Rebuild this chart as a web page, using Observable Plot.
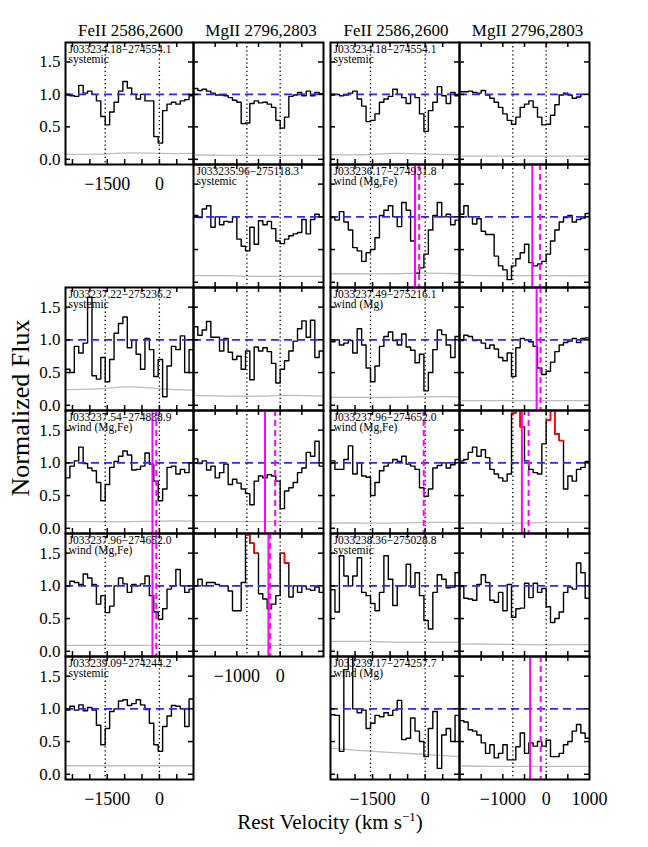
<!DOCTYPE html>
<html><head><meta charset="utf-8">
<script src="https://cdn.jsdelivr.net/npm/d3@7"></script>
<script src="https://cdn.jsdelivr.net/npm/@observablehq/plot@0.6"></script>
<style>
body{margin:0;background:#fff;}
#chart{position:relative;width:648px;height:847px;font-family:"Liberation Serif","DejaVu Serif",serif;}
#chart svg.panel{position:absolute;}
#overlay{position:absolute;left:0;top:0;pointer-events:none;}
</style></head><body><div id="chart"></div>
<script>
// ---------------- axes / reference values ----------------
const feDomain = [-2700, 980];
const mgDomain = [-2000, 1000];
const yDomain = [-0.08, 1.8];
const feLineVel = [-1559, 0];
const mgLineVel = [-768, 0];
const feTickVals = [-2500, -2000, -1500, -1000, -500, 0, 500];
const mgTickVals = [-1500, -1000, -500, 0, 500];
const yTickVals = [0, 0.5, 1.0, 1.5];
const feTickLabels = [-1500, 0];
const mgTickLabels = [-1000, 0];
const mgTickLabelsLast = [-1000, 0, 1000];
const columnTitles = ["FeII 2586,2600", "MgII 2796,2803", "FeII 2586,2600", "MgII 2796,2803"];

// ---------------- object labels ----------------
const labelA = ["J033234.18−274554.1", "systemic"];
const labelE = ["J033235.96−275118.3", "systemic"];
const labelH = ["J033237.22−275236.2", "systemic"];
const labelL = ["J033237.54−274838.9", "wind (Mg,Fe)"];
const labelP = ["J033237.96−274652.0", "wind (Mg,Fe)"];
const labelT = ["J033239.09−274244.2", "systemic"];
const labelC = ["J033234.18−274554.1", "systemic"];
const labelF = ["J033236.17−274931.8", "wind (Mg,Fe)"];
const labelJ = ["J033237.49−275216.1", "wind (Mg)"];
const labelN = ["J033237.96−274652.0", "wind (Mg,Fe)"];
const labelR = ["J033238.36−275028.8", "systemic"];
const labelU = ["J033239.17−274257.7", "wind (Mg)"];

// ---------------- normalized flux (binned) ----------------
const fluxA = [0.99,0.98,0.97,1.14,1.02,1.05,1.0,0.9,0.66,0.53,0.73,0.88,1.05,1.2,1.1,1.0,0.93,1.0,0.9,0.9,0.35,0.25,0.75,0.85,0.88,0.85,0.9,0.92,0.98];
const fluxB = [1.09,1.06,1.08,1.05,1.02,0.99,0.99,0.98,0.95,0.91,0.88,0.55,0.56,0.86,0.9,0.87,0.88,0.85,0.8,0.6,0.48,0.65,0.97,0.99,1.03,0.98,1.05,0.98,1.03,1.01];
const fluxC = [0.99,1.0,0.98,0.99,1.02,1.05,0.93,0.82,0.58,0.6,0.7,0.88,0.93,0.97,1.08,1.0,0.95,0.86,1.0,0.95,0.7,0.43,0.75,0.88,1.12,0.98,0.86,1.03,0.98];
const fluxD = [1.04,1.04,1.05,1.03,1.02,1.06,0.99,0.94,0.88,0.8,0.7,0.6,0.54,0.65,0.8,0.85,0.9,0.8,0.65,0.53,0.54,0.68,0.84,0.99,1.02,0.99,0.94,0.96,1.0,1.0];
const fluxE = [1.02,0.99,1.12,1.17,0.84,1.0,0.88,0.93,0.92,1.0,0.66,0.55,0.48,0.84,0.58,0.94,0.88,0.93,0.82,0.63,0.59,0.66,0.71,0.74,0.76,0.96,0.74,0.96,1.04,1.0];
const fluxF = [0.99,0.95,1.08,0.92,0.8,0.53,0.48,0.32,0.45,0.5,0.68,1.02,1.1,1.17,1.0,0.85,1.22,1.1,0.63,0.14,0.22,0.43,0.8,1.02,1.22,1.0,1.04,0.88,0.95];
const fluxG = [1.04,1.17,1.0,0.89,0.97,0.78,0.73,0.73,0.4,0.25,0.19,0.04,0.25,0.36,0.45,0.58,0.3,0.25,0.28,0.32,0.43,0.63,0.8,0.92,0.99,1.02,0.92,0.96,0.98,1.05];
const fluxH = [0.55,0.5,0.9,0.8,0.95,1.65,0.45,0.4,0.73,0.36,0.7,1.1,1.25,1.35,0.88,1.0,0.78,0.55,1.02,0.85,0.44,0.7,0.13,0.6,0.9,0.85,1.06,0.5,0.85];
const fluxI = [1.2,1.07,1.15,1.28,1.04,1.04,0.83,1.02,0.81,0.7,0.75,0.55,0.83,0.39,0.89,0.83,0.88,0.82,0.64,0.34,0.55,0.68,0.83,0.98,1.17,1.29,1.04,1.3,0.73,0.83];
const fluxJ = [0.97,1.0,0.92,0.95,0.99,0.8,1.17,0.92,0.57,0.36,0.6,0.9,1.05,1.12,0.99,0.92,1.09,0.89,0.84,0.65,0.78,0.22,0.5,0.85,1.15,1.08,0.92,0.73,1.05];
const fluxK = [0.99,1.07,1.05,0.99,1.0,0.95,0.87,0.92,0.86,0.73,0.68,0.8,0.44,0.88,1.02,1.0,0.97,0.9,0.57,0.47,0.52,0.66,0.82,0.92,0.96,0.98,1.02,0.96,1.02,1.03];
const fluxL = [0.77,0.95,1.03,1.24,0.99,0.92,0.88,0.7,0.42,0.67,0.93,1.02,1.1,1.18,1.12,0.89,0.9,0.95,1.15,0.98,0.72,0.42,0.6,0.93,0.95,0.83,0.9,0.85,1.0];
const fluxM = [1.06,0.99,1.03,0.89,0.95,0.77,0.85,0.98,0.67,0.75,0.69,0.6,0.53,0.36,0.72,0.8,0.77,0.82,0.8,0.72,0.3,0.57,0.62,0.7,0.85,0.92,1.16,1.1,1.33,0.95];
const fluxN = [1.03,0.9,0.9,1.05,1.26,0.83,1.0,0.8,0.78,0.5,0.7,0.88,0.95,1.0,1.05,1.02,1.1,0.98,0.95,0.9,0.62,0.49,0.6,0.92,0.96,1.0,0.92,0.97,1.05];
const fluxO = [1.03,1.05,1.16,1.24,1.1,1.2,1.08,0.9,0.83,0.77,0.72,0.83,1.76,2.2,1.55,1.03,0.9,0.85,0.83,1.29,1.65,2.2,1.44,1.34,0.6,0.8,0.72,0.9,0.93,1.02];
const fluxP = [1.0,1.07,1.05,1.02,1.18,1.12,1.02,0.72,0.85,0.59,0.69,1.0,1.12,1.03,0.9,1.02,1.0,1.03,1.15,0.85,0.6,0.49,0.65,0.95,1.0,1.25,1.0,0.9,0.95];
const fluxQ = [1.0,1.1,1.0,1.05,1.05,1.02,1.0,1.0,0.92,0.62,0.62,1.05,1.78,1.65,1.5,0.88,0.8,0.65,0.72,0.85,1.5,1.35,0.83,1.0,0.9,1.0,0.95,0.93,0.98,0.9];
const fluxR = [0.94,0.6,1.46,1.15,1.0,1.15,1.43,0.9,0.85,0.73,0.62,0.9,1.46,1.1,0.7,1.0,1.0,1.33,0.98,1.2,0.85,0.47,0.34,0.9,1.17,1.1,0.97,0.98,1.2];
const fluxS = [0.99,0.81,0.8,0.78,1.02,1.17,1.05,0.78,0.75,0.9,0.62,1.02,0.52,0.65,0.66,1.04,0.82,1.04,0.9,0.96,0.68,0.44,0.5,0.6,0.9,0.98,0.95,1.35,1.2,0.81];
const fluxT = [0.98,1.04,0.98,1.06,0.97,1.02,0.98,0.75,0.45,0.7,0.96,1.0,1.12,1.14,1.05,1.08,1.14,1.06,0.99,0.78,0.45,0.35,0.73,0.89,1.05,1.04,1.0,0.73,1.15];
const fluxU = [0.91,0.9,0.35,1.6,1.85,1.0,0.94,0.98,0.7,0.78,0.9,0.88,0.94,0.9,0.98,1.13,0.53,0.55,0.86,0.66,0.5,0.27,0.7,0.96,0.09,0.6,0.7,0.5,0.9];
const fluxV = [0.82,0.8,0.68,0.66,0.6,0.48,0.32,0.45,0.25,0.32,0.45,0.22,0.22,0.42,0.63,0.32,0.48,0.43,0.5,0.43,0.52,0.27,0.27,0.32,0.45,0.5,0.66,0.76,0.63,0.55];

// bins drawn in red
const redO = [12,13,14,20,21,22,23];
const redQ = [12,13,14,20,21];

// ---------------- error spectra (knots across the window) ----------------
const errA = [0.08,0.08,0.1,0.09,0.09];
const errB = [0.07,0.06,0.06,0.06,0.06];
const errC = [0.07,0.07,0.09,0.08,0.07];
const errD = [0.05,0.05,0.05,0.05,0.05];
const errE = [0.1,0.1,0.09,0.09,0.09];
const errF = [0.13,0.13,0.13,0.14,0.13];
const errG = [0.11,0.1,0.1,0.1,0.1];
const errH = [0.24,0.25,0.28,0.25,0.23];
const errI = [0.15,0.14,0.14,0.15,0.14];
const errJ = [0.12,0.12,0.12,0.13,0.13];
const errK = [0.07,0.07,0.07,0.07,0.07];
const errL = [0.1,0.1,0.1,0.11,0.11];
const errM = [0.1,0.1,0.1,0.1,0.1];
const errN = [0.08,0.08,0.08,0.09,0.09];
const errO = [0.08,0.08,0.08,0.09,0.09];
const errP = [0.09,0.09,0.09,0.09,0.09];
const errQ = [0.09,0.09,0.09,0.09,0.09];
const errR = [0.15,0.15,0.14,0.14,0.14];
const errS = [0.11,0.11,0.1,0.1,0.1];
const errT = [0.13,0.13,0.13,0.13,0.13];
const errU = [0.4,0.36,0.33,0.3,0.27];
const errV = [0.13,0.12,0.12,0.12,0.12];

// ---------------- wind velocities [solid, dashed] (km/s) ----------------
const windF = [-290, -170];
const windG = [-320, -140];
const windK = [-220, -130];
const windL = [-200, -90];
const windM = [-350, -115];
const windN = [null, -40];
const windO = [-560, -405];
const windP = [-200, -90];
const windQ = [-270, -230];
const windV = [-370, -125];

const panels = [
  {row:0,col:0,flux:fluxA,err:errA,label:labelA,yLab:true,xLab:feTickLabels},
  {row:0,col:1,flux:fluxB,err:errB},
  {row:1,col:1,flux:fluxE,err:errE,label:labelE},
  {row:2,col:0,flux:fluxH,err:errH,label:labelH,yLab:true},
  {row:2,col:1,flux:fluxI,err:errI},
  {row:3,col:0,flux:fluxL,err:errL,label:labelL,yLab:true,wind:windL},
  {row:3,col:1,flux:fluxM,err:errM,wind:windM},
  {row:4,col:0,flux:fluxP,err:errP,label:labelP,yLab:true,wind:windP},
  {row:4,col:1,flux:fluxQ,err:errQ,red:redQ,wind:windQ,xLab:mgTickLabels},
  {row:5,col:0,flux:fluxT,err:errT,label:labelT,yLab:true,xLab:feTickLabels},
  {row:0,col:2,flux:fluxC,err:errC,label:labelC},
  {row:0,col:3,flux:fluxD,err:errD},
  {row:1,col:2,flux:fluxF,err:errF,label:labelF,wind:windF},
  {row:1,col:3,flux:fluxG,err:errG,wind:windG},
  {row:2,col:2,flux:fluxJ,err:errJ,label:labelJ},
  {row:2,col:3,flux:fluxK,err:errK,wind:windK},
  {row:3,col:2,flux:fluxN,err:errN,label:labelN,wind:windN},
  {row:3,col:3,flux:fluxO,err:errO,red:redO,wind:windO},
  {row:4,col:2,flux:fluxR,err:errR,label:labelR},
  {row:4,col:3,flux:fluxS,err:errS},
  {row:5,col:2,flux:fluxU,err:errU,label:labelU,xLab:feTickLabels},
  {row:5,col:3,flux:fluxV,err:errV,wind:windV,xLab:mgTickLabelsLast}
];

// ---------------- layout (pixels) ----------------
const colX = [65, 193, 330, 459];
const colW = [128, 130, 129, 130];
const rowY = [42, 164, 287, 410, 533, 656];
const rowH = [122, 123, 123, 123, 123, 123];
const FONT = "Liberation Serif, DejaVu Serif, serif";

const fmt = d => d < 0 ? "\u2212" + Math.abs(d) : String(d);

function stepVerts(flux, dom) {
  const n = flux.length, w = (dom[1] - dom[0]) / n, out = [];
  flux.forEach((v, i) => { out.push({x: dom[0] + i * w, y: v}, {x: dom[0] + (i + 1) * w, y: v}); });
  return out;
}
function redVerts(flux, dom, red) {
  const n = flux.length, w = (dom[1] - dom[0]) / n, out = [];
  let prev = -5;
  red.forEach(i => {
    if (i !== prev + 1 && out.length) out.push({x: NaN, y: NaN});
    out.push({x: dom[0] + i * w, y: flux[i]}, {x: dom[0] + (i + 1) * w, y: flux[i]});
    prev = i;
  });
  return out;
}
function errPts(err, dom) {
  return err.map((v, k) => ({x: dom[0] + k * (dom[1] - dom[0]) / (err.length - 1), y: v}));
}

const chart = document.getElementById("chart");

panels.forEach(p => {
  const isFe = p.col % 2 === 0;
  const dom = isFe ? feDomain : mgDomain;
  const W = colW[p.col], H = rowH[p.row];
  const ticks = isFe ? feTickVals : mgTickVals;
  const marks = [
    Plot.line(errPts(p.err, dom), {x: "x", y: "y", stroke: "#bdbdbd", strokeWidth: 1.3, curve: "natural"}),
    Plot.line(stepVerts(p.flux, dom), {x: "x", y: "y", stroke: "#000", strokeWidth: 1.4, clip: true})
  ];
  if (p.red) marks.push(Plot.line(redVerts(p.flux, dom, p.red), {x: "x", y: "y", stroke: "#ff0000", strokeWidth: 1.5, clip: true}));
  marks.push(
    Plot.ruleY([1], {stroke: "#2a2aff", strokeWidth: 1.6, strokeDasharray: "8,5"}),
    Plot.ruleX(isFe ? feLineVel : mgLineVel, {x: d => d, stroke: "#000", strokeWidth: 1.3, strokeDasharray: "1.3,2.8"})
  );
  if (p.wind) {
    if (p.wind[0] != null) marks.push(Plot.ruleX([p.wind[0]], {x: d => d, stroke: "#ff00ff", strokeWidth: 2}));
    if (p.wind[1] != null) marks.push(Plot.ruleX([p.wind[1]], {x: d => d, stroke: "#ff00ff", strokeWidth: 2, strokeDasharray: "6,4"}));
  }
  marks.push(
    Plot.tickY(yTickVals, {y: d => d, insetRight: W - 5, stroke: "#000", strokeWidth: 1.5}),
    Plot.tickY(yTickVals, {y: d => d, insetLeft: W - 5, stroke: "#000", strokeWidth: 1.5}),
    Plot.tickX(ticks, {x: d => d, insetTop: H - 5, stroke: "#000", strokeWidth: 1.5}),
    Plot.tickX(ticks, {x: d => d, insetBottom: H - 5, stroke: "#000", strokeWidth: 1.5}),
    Plot.frame({stroke: "#000", strokeWidth: 2})
  );
  if (p.label) {
    marks.push(Plot.text([p.label.join("\n")], {text: d => d, frameAnchor: "top-left", lineAnchor: "top", textAnchor: "start", dx: 3, dy: 3, lineHeight: 0.9, fontSize: 11.5, fill: "#000"}));
  }
  if (p.yLab) {
    marks.push(Plot.axisY({ticks: yTickVals, tickSize: 0, tickPadding: 5, tickFormat: d => d.toFixed(1), fontSize: 17, label: null, anchor: "left"}));
  }
  if (p.xLab) {
    marks.push(Plot.axisX({ticks: p.xLab, tickSize: 0, tickPadding: 13, tickFormat: fmt, fontSize: 18, label: null, anchor: "bottom"}));
  }
  const svg = Plot.plot({
    width: W, height: H, margin: 0,
    x: {domain: dom, axis: null, label: null},
    y: {domain: yDomain, axis: null, label: null},
    style: {overflow: "visible", background: "transparent", fontFamily: FONT, fontSize: "17px", color: "#000"},
    marks
  });
  svg.classList.add("panel");
  svg.style.position = "absolute";
  svg.style.left = colX[p.col] + "px";
  svg.style.top = rowY[p.row] + "px";
  svg.style.overflow = "visible";
  chart.appendChild(svg);
});

// ---------------- titles ----------------
const ov = d3.select(chart).append("svg").attr("id", "overlay").attr("width", 648).attr("height", 847)
  .style("font-family", FONT);
const titleX = [130.5, 261, 396, 527.5];
columnTitles.forEach((t, i) => {
  ov.append("text").attr("x", titleX[i]).attr("y", 36).attr("text-anchor", "middle")
    .attr("font-size", 17).attr("fill", "#000").text(t);
});
ov.append("text").attr("transform", "translate(29,408) rotate(-90)").attr("text-anchor", "middle")
  .attr("font-size", 26).attr("fill", "#000").text("Normalized Flux");
const xt = ov.append("text").attr("x", 330).attr("y", 829).attr("text-anchor", "middle")
  .attr("font-size", 21).attr("fill", "#000");
xt.append("tspan").text("Rest Velocity (km s");
xt.append("tspan").attr("dy", -8).attr("font-size", 13).text("\u22121");
xt.append("tspan").attr("dy", 8).text(")");
</script></body></html>
